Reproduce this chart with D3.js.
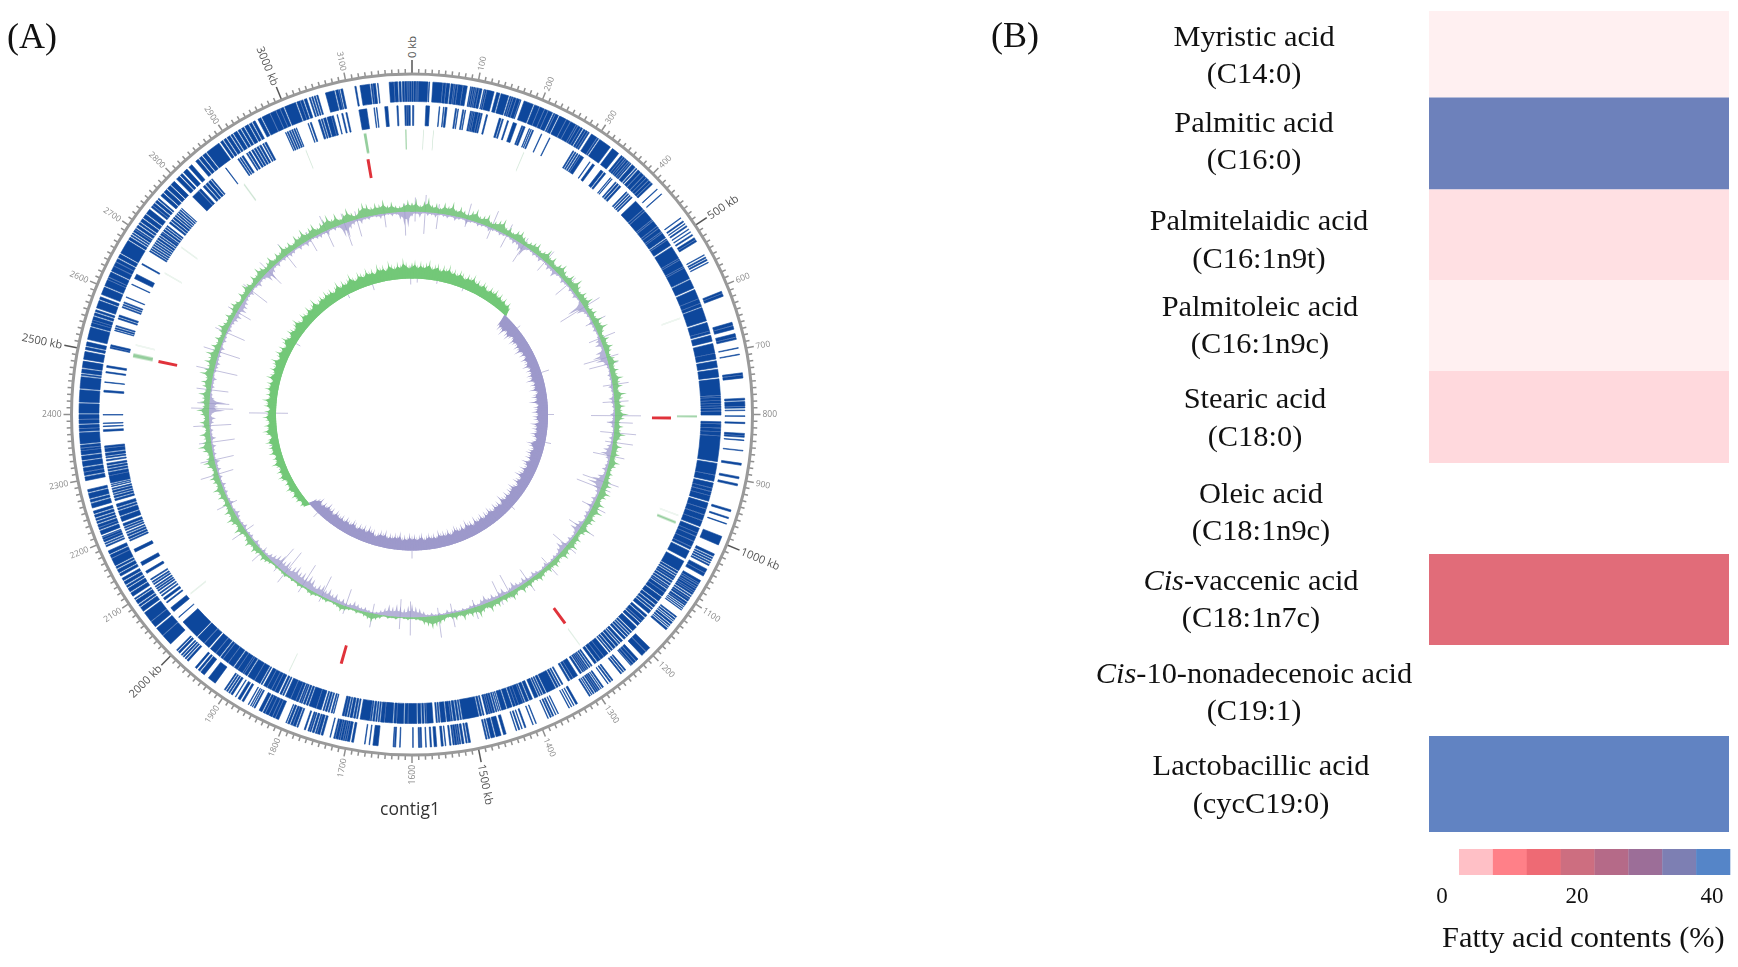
<!DOCTYPE html>
<html><head><meta charset="utf-8">
<script src="https://cdnjs.cloudflare.com/ajax/libs/d3/7.8.5/d3.min.js"></script>
<style>html,body{margin:0;padding:0;background:#fff;overflow:hidden}svg{display:block}</style>
</head><body><svg id="c" width="1738" height="967"></svg>
<script>
// ---------- Panel A data (kb) ----------
const genomeKb = 3200;
const majorTicks = [0,500,1000,1500,2000,2500,3000];
const minorTicks = [100,200,300,400,600,700,800,900,1100,1200,1300,1400,1600,1700,1800,1900,2100,2200,2300,2400,2600,2700,2800,2900,3100];

const genesOuter = [
[0,2],[3,6],[7,9],[10,24.5],[26,27],[32,47],[48,52],[53,58],[60,64],[65,66],[67,70],[71,78],[79,85],[90,91],[92,94],[95,97],[98,99],[100,103],[104,108],
[111,112],[113,115],[116,127],[131,136],[138,150],[152,154],[155,157],[158,162],[163,168],[169,170],[175,190],[192,200],[201,208],[209,214],[215,222],[224,226],[227,232],
[234,245],[246,252],[253,262],[263,265],[266,270],[271,274],[276,279],[280,283],[284,286],[290,300],[301,303],[305,325],[329,341],[346,349],[350,353],[354,356],[357,360],[361,363],[364,366],[368,374],[376,378],[380,385],[386,392],[393,397],[398,402],[403,407],[408,411],
[421,422],[431,432],[478,479],[484,486],[489,490],[493,495],[499,500],[504,505],[509,511],[515,518],[519,522],[545,546],[549,551],[553,555],[558,559],[607,610],[611,615],
[657,662],[663,668],[675,680],[681,684],[697,698],[707,708],[736,739],[740,744],[775,778],[780,787],[788,790],[793,794],[802,803],[812,814],[829,832],[833,835],[839,840],[855,856],[875,878],[896,899],[907,910],[948,951],[960,962],[970,971],[991,1005],
[1020,1024],[1026,1028],[1030,1032],[1034,1036],[1038,1040],[1046,1052],[1053,1058],[1066,1070],[1071,1073],[1074,1077],[1078,1080],[1081,1084],[1085,1087],[1088,1091],[1093,1095],[1097,1099],[1100,1103],[1105,1108],[1109,1111],[1113,1114],[1116,1117],[1119,1120],
[1132,1134],[1136,1138],[1140,1141],[1143,1146],[1148,1150],[1152,1153],[1155,1158],[1195,1203],[1204,1212],[1220,1224],[1225,1229],[1230,1233],[1234,1235],[1245,1247],[1249,1251],[1253,1255],[1270,1272],[1274,1276],[1279,1280],
[1288,1290],[1292,1293],[1295,1297],[1298,1300],[1301,1303],[1305,1307],[1309,1310],[1312,1314],[1335,1338],[1341,1342],[1345,1346],[1349,1350],[1368,1369],[1372,1373],[1376,1378],[1380,1382],[1385,1386],[1405,1406],[1410,1411],[1422,1424],[1428,1429],[1432,1434],[1437,1438],
[1454,1458],[1462,1470],[1472,1478],[1480,1482],[1484,1486],[1510,1513],[1515,1517],[1520,1523],[1525,1527],[1528,1530],[1531,1534],[1535,1537],[1540,1542],[1548,1549],[1552,1555],[1562,1566],[1570,1572],[1578,1579],
[1585,1587],[1588,1590],[1598,1599],[1618,1619],[1625,1627],[1628,1629],[1652,1660],[1665,1666],[1672,1673],[1690,1693],[1696,1700],[1701,1703],[1704,1706],[1707,1710],[1711,1713],[1714,1718],[1719,1721],[1726,1727],[1738,1741],[1743,1747],[1748,1750],[1752,1755],[1757,1759],[1760,1762],[1766,1768],
[1778,1780],[1782,1786],[1787,1790],[1792,1795],[1797,1798],[1810,1815],[1816,1820],[1821,1826],[1827,1832],[1833,1836],[1838,1843],[1850,1852],[1854,1855],[1857,1858],[1861,1862],[1870,1873],[1876,1880],[1884,1885],[1890,1893],[1895,1897],[1899,1901],[1903,1905],[1922,1935],[1943,1950],[1952,1955],[1958,1961],[1975,1978],[1980,1982],[1984,1986],[1988,1990],[1993,1996],[1998,2000],
[2013,2030],[2031,2045],[2048,2058],[2059,2075],[2078,2085],[2087,2090],[2092,2098],[2100,2102],[2106,2112],[2114,2120],[2122,2125],[2127,2132],[2134,2138],[2142,2146],[2148,2153],[2155,2158],[2160,2172],[2173,2178],[2180,2185],[2192,2194],[2196,2198],[2200,2203],[2204,2207],[2208,2209],[2212,2218],[2220,2223],[2224,2228],[2230,2233],[2235,2238],[2240,2244],[2246,2250],[2255,2262],[2264,2268],[2270,2278],[2280,2284],
[2298,2304],[2306,2311],[2312,2318],[2320,2328],[2330,2336],[2338,2344],[2345,2348],[2349,2353],[2355,2372],[2374,2378],[2379,2384],[2386,2392],[2393,2400],[2402,2417],[2419,2438],[2440,2458],[2460,2462],[2464,2470],[2472,2482],[2485,2497],[2500,2504],[2506,2512],[2516,2535],
[2537,2542],[2543,2546],[2547,2552],[2554,2558],[2560,2563],[2566,2578],[2580,2584],[2588,2600],[2602,2612],[2613,2616],[2617,2625],[2627,2635],[2636,2642],[2643,2648],[2650,2656],[2658,2680],[2682,2686],[2688,2690],[2692,2694],[2696,2699],[2700,2702],[2704,2708],[2710,2713],[2715,2720],[2722,2728],[2730,2738],[2742,2745],[2746,2750],[2752,2756],[2758,2760],[2765,2770],[2772,2778],[2780,2786],[2788,2795],[2800,2806],[2808,2812],[2815,2822],[2826,2832],
[2840,2845],[2847,2852],[2854,2860],[2862,2885],[2888,2892],[2894,2898],[2900,2905],[2907,2910],[2912,2918],[2920,2924],[2926,2930],[2932,2938],[2940,2944],[2946,2950],[2955,2960],[2962,2975],[2976,2985],[2986,2992],[2993,2998],[3000,3018],[3020,3025],[3026,3030],[3032,3036],[3040,3042],[3044,3046],[3048,3050],[3052,3054],[3066,3080],[3082,3086],[3087,3088],[3090,3093],[3112,3114],[3120,3135],[3137,3139],[3140,3144],[3147,3148],[3165,3172],[3173,3178],[3180,3183],[3185,3188],[3189,3192],[3193,3195],[3196,3199]
];

const genesInner = [
[1,3],[23,29],[45,46],[52,53],[55,58],[72,74],[76,77],[84,86],[88,89],[97,99],[100,101],[102,104],[105,110],[111,114],[115,117],[124,126],[146,149],[151,153],[160,162],[170,176],[185,187],[188,191],[198,199],[201,202],[204,206],[220,221],[235,236],
[279,281],[283,285],[287,289],[291,293],[294,300],[312,313],[318,322],[335,340],[342,345],[355,356],[358,359],[366,368],[370,373],[375,378],[390,392],[394,396],[398,400],[402,404],
[412,430],[431,434],[435,452],[453,455],[456,466],[467,470],[471,477],[478,480],[481,490],[492,494],[495,505],[508,530],[531,533],[534,545],[546,548],[549,568],[570,585],[588,604],[605,612],[613,618],[620,643],[646,660],[661,665],[668,678],[682,698],[699,708],[711,722],[725,738],[741,768],[769,771],[772,776],[777,781],[782,785],[786,789],[790,794],[795,801],[812,815],[816,822],[823,828],[829,835],[836,878],[881,900],[901,911],[914,922],[923,928],[929,935],[936,945],[948,958],[959,968],[969,978],[979,989],[992,1000],[1001,1006],[1007,1015],[1016,1025],[1026,1030],[1033,1047],
[1052,1070],[1072,1075],[1077,1079],[1081,1084],[1085,1088],[1090,1093],[1095,1098],[1100,1102],[1103,1105],[1107,1112],[1113,1120],[1122,1130],[1132,1137],[1139,1143],[1145,1148],[1150,1156],[1160,1164],[1166,1172],[1173,1176],[1178,1183],[1186,1195],[1197,1200],[1202,1204],[1206,1209],[1211,1215],[1218,1222],[1224,1226],[1228,1232],[1234,1238],[1240,1243],[1245,1247],[1250,1258],[1259,1265],[1266,1272],[1274,1278],
[1283,1285],[1287,1289],[1291,1293],[1294,1296],[1297,1299],[1300,1302],[1304,1307],[1312,1320],[1321,1325],[1327,1330],[1340,1342],[1345,1347],[1349,1352],[1354,1370],[1372,1376],[1378,1380],[1382,1384],[1386,1392],[1396,1401],[1403,1408],[1410,1412],[1413,1420],[1421,1425],[1426,1430],[1432,1440],[1442,1450],[1452,1453],[1455,1456],[1458,1460],[1462,1465],[1466,1469],[1470,1472],[1473,1476],[1480,1482],[1484,1487],[1489,1516],[1518,1520],[1522,1525],[1527,1531],[1533,1535],[1536,1542],[1544,1552],[1554,1556],[1558,1560],[1565,1575],[1576,1578],[1580,1583],[1585,1590],
[1592,1606],[1607,1612],[1614,1625],[1626,1630],[1632,1645],[1646,1652],[1654,1656],[1658,1660],[1662,1665],[1667,1669],[1670,1686],[1690,1692],[1694,1697],[1699,1703],[1705,1707],[1709,1712],[1713,1716],[1730,1731],[1733,1735],[1738,1740],[1742,1745],[1747,1749],[1752,1760],[1761,1773],[1775,1778],[1780,1783],[1785,1787],[1788,1790],[1792,1796],[1797,1805],[1806,1815],[1818,1820],[1822,1825],[1828,1834],[1835,1840],[1841,1848],[1849,1855],[1858,1860],[1862,1872],[1873,1885],[1887,1892],[1893,1895],[1896,1905],[1906,1912],[1914,1924],[1925,1935],[1936,1940],[1942,1950],[1951,1962],[1965,1975],[1976,1990],[1992,2025],
[2035,2036],[2048,2056],[2066,2068],[2072,2076],[2080,2082],[2085,2087],[2090,2092],[2094,2096],[2098,2100],[2103,2105],[2107,2109],[2112,2114],[2125,2129],[2140,2146],[2165,2170],[2185,2187],[2189,2192],[2194,2197],[2199,2201],[2204,2206],[2208,2210],[2212,2216],[2220,2228],[2230,2238],[2240,2243],[2245,2250],[2256,2259],[2261,2264],[2266,2268],[2270,2273],[2275,2277],[2280,2281],[2283,2284],[2286,2298],[2299,2304],[2306,2309],[2311,2314],[2316,2319],[2323,2325],[2328,2330],[2332,2336],[2338,2344],[2345,2348],[2372,2375],[2380,2381],[2385,2386],[2399,2400],[2437,2440],[2453,2454],[2469,2471],[2478,2481],[2510,2512],[2513,2516],[2540,2541],[2543,2545],[2547,2549],
[2560,2562],[2564,2567],[2580,2582],[2584,2586],[2588,2590],[2598,2599],[2621,2622],[2632,2640],[2658,2660],[2683,2685],[2687,2689],[2691,2693],[2695,2697],[2699,2701],[2703,2705],[2707,2710],[2712,2714],[2716,2719],[2720,2722],[2724,2727],[2729,2731],[2733,2735],[2740,2743],[2745,2748],[2750,2753],[2755,2757],[2759,2761],[2763,2765],[2767,2769],[2771,2772],[2798,2812],[2813,2817],[2822,2826],[2828,2832],[2834,2838],[2840,2842],[2870,2871],[2895,2897],[2899,2901],[2903,2906],[2912,2914],[2916,2919],[2922,2925],[2927,2930],[2932,2935],[2937,2940],[2943,2945],[2947,2950],
[2985,2986],[2988,2990],[2992,2994],[2996,2998],[3000,3002],[3004,3005],[3025,3026],[3029,3031],[3043,3046],[3048,3050],[3052,3056],[3058,3065],[3066,3069],[3075,3076],[3083,3085],[3090,3092],[3112,3125],[3137,3138],[3141,3142],[3155,3160],[3175,3177],[3188,3190],[3191,3193],[3194,3197]
];

const rnaGreen = [[3113,3118],[802,805],[996,1000],[2503,2510],[3188,3190]];
const rnaFaint = [[20,21],[38,39],[205,206],[624,625],[984,985],[1279,1280],[1827,1828],[2053,2054],[2525,2526],[2664,2665],[2719,2720],[2878,2880],[3005,3006]];
const rrnaRed = [[3110,3116],[2502,2508],[804,810],[1275,1281],[1738,1744]];

// one sample per 10 kb
const gcUp = [
9,13,7,11,15,8,10,6,12,9,14,7,11,8,6,10,13,7,9,12,6,8,11,14,7,9,6,10,12,8,5,7,
9,11,6,8,13,7,10,5,9,12,8,6,11,7,14,9,6,10,8,12,5,7,9,6,11,8,13,7,5,9,6,10,
7,5,8,11,6,9,7,12,8,10,6,13,9,7,11,8,14,10,6,9,7,12,8,5,10,7,9,6,11,8,5,7,
6,8,10,7,12,9,6,11,8,13,7,10,9,6,12,8,5,9,7,11,6,8,10,5,7,9,6,8,5,7,9,6,
5,8,6,9,4,7,10,6,8,5,9,7,11,6,8,12,7,9,6,10,5,8,6,4,7,9,11,13,10,8,4,3,
2,3,2,1,3,2,3,1,4,6,9,7,5,3,4,2,3,5,7,4,3,2,4,3,2,3,5,4,2,3,4,2,
3,2,4,3,2,3,2,4,6,8,5,7,9,6,10,7,5,8,11,6,9,12,7,10,6,8,5,9,7,11,6,8,
10,7,5,9,12,8,6,10,14,9,7,11,5,8,10,6,9,13,7,10,8,12,6,9,11,7,14,10,8,12,9,13,
7,10,6,9,5,8,11,7,6,9,5,8,10,7,4,9,6,11,8,5,10,7,12,9,6,8,11,5,9,7,13,8,
10,6,12,9,14,8,11,13,7,10,12,15,9,13,6,10,14,8,5,11,15,13,9,12,10,14,8,11,7,6,9,12
];
const gcDown = [
5,3,6,2,4,3,5,2,3,4,2,5,3,2,6,3,2,4,3,2,5,3,2,4,3,2,3,5,4,9,12,3,
2,4,3,5,2,3,6,4,8,3,2,5,3,2,4,3,5,2,3,18,10,4,3,2,5,3,4,2,3,6,8,3,
10,14,12,5,3,2,4,3,2,5,3,2,6,4,3,2,5,3,7,4,2,3,5,3,6,9,11,5,3,4,6,3,
8,13,16,9,5,3,6,4,7,3,5,4,2,6,8,10,4,3,5,3,8,10,6,3,4,3,2,5,3,2,4,6,
3,5,7,4,6,9,5,3,8,6,4,7,5,9,6,3,5,4,2,3,2,4,3,5,2,3,2,4,3,6,9,11,
14,12,9,11,13,10,12,8,5,3,2,3,5,4,6,8,5,4,7,5,9,7,11,8,12,10,7,12,14,10,13,11,
15,12,9,13,10,14,11,8,6,3,4,2,3,5,2,4,3,2,5,3,2,4,6,3,2,5,3,2,4,3,5,2,
4,2,5,3,6,2,4,3,5,2,6,3,4,2,5,7,3,16,9,17,5,3,2,4,3,5,2,3,4,5,3,4,
3,5,2,4,3,2,5,3,4,6,8,5,9,8,6,4,3,5,2,3,6,3,4,10,12,6,3,5,2,4,3,5,
4,2,5,3,6,3,2,4,5,3,6,2,4,3,14,16,8,5,3,6,3,4,2,3,5,3,2,4,3,8,14,16
];
const gcSkew = [
16,19,14,18,15,17,20,14,16,18,13,17,15,19,14,16,13,17,15,12,16,14,18,13,15,12,16,14,11,15,13,16,
12,15,11,14,10,13,9,-14,-17,-15,-19,-13,-16,-18,-14,-12,-17,-15,-13,-16,-14,-18,-12,-15,-11,-16,-13,-14,-17,-12,-15,-13,
-16,-14,-18,-12,-15,-13,-17,-11,-14,-16,-13,-19,-12,-15,-14,-17,-13,-16,-15,-12,-18,-14,-16,-13,-17,-15,-12,-14,-19,-16,-13,-15,
-17,-14,-16,-12,-18,-15,-13,-17,-14,-16,-19,-13,-15,-17,-12,-14,-18,-15,-16,-13,-17,-14,-15,-19,-12,-16,-14,-17,-13,-15,-18,-14,
-16,-13,-17,-15,-14,-18,-12,-16,-15,-19,-13,-17,-14,-16,-18,-15,-13,-17,-14,-16,-15,-18,-13,-16,-14,-17,-15,-13,-18,-16,-14,-17,
-15,-18,-14,-16,-13,-19,-15,-17,-14,-16,-13,-18,-15,-17,-14,-12,-16,-15,-18,-13,-17,-14,-16,-12,-15,-17,-13,-14,-16,-12,-15,-13,
-14,-16,-11,-15,-13,-17,-12,-14,-10,-15,-12,-9,7,9,6,10,8,11,7,9,12,8,10,7,11,13,9,12,8,10,14,9,
11,8,13,10,12,9,14,11,8,12,15,10,13,9,11,14,10,12,8,13,11,15,9,12,10,14,11,13,9,15,12,10,
14,11,13,16,10,12,15,11,14,9,13,16,12,10,15,13,11,14,17,12,10,15,13,11,16,12,14,18,11,13,15,12,
16,13,15,11,14,18,12,16,13,15,19,14,12,17,15,13,18,14,16,12,19,15,17,13,20,16,14,18,15,21,17,14
];
// thin, faint spikes: [kb, outward, inward]
const gcSpikes = [[8,14,10],[33,17,22],[66,9,16],[140,16,8],[205,18,12],[248,12,14],[297,8,20],[365,13,12],[446,10,16],[516,18,28],[560,14,8],[604,16,12],[655,12,24],[672,10,20],[725,16,10],[768,14,12],[803,26,24],[820,18,8],[846,22,14],[870,20,8],[905,14,18],[972,16,22],[990,10,26],[1040,14,12],[1100,16,14],[1158,12,18],[1225,14,10],[1290,12,14],[1345,6,20],[1372,8,18],[1440,12,8],[1498,14,10],[1533,22,8],[1604,18,16],[1630,12,18],[1700,14,10],[1770,8,18],[1835,6,22],[1890,8,24],[1944,12,26],[1968,6,24],[2022,14,6],[2090,16,10],[2168,14,8],[2248,18,16],[2285,14,20],[2330,12,24],[2372,16,22],[2415,18,24],[2428,12,20],[2462,14,18],[2512,18,24],[2560,16,22],[2612,12,20],[2670,10,16],[2735,10,20],[2800,12,18],[2860,14,16],[2932,8,14],[2978,16,18],[3027,10,24],[3060,8,18],[3130,6,14],[3182,8,24]];
const skewSpikes = [[20,8,4],[95,6,3],[196,7,3],[2405,27,12],[2680,10,5],[2950,9,4],[3050,6,6],[3195,12,6],[450,4,0],[640,8,0],[800,6,0],[905,6,0],[1180,4,0],[1600,8,0],[1990,6,6],[2200,8,0],[2290,10,0],[2540,8,0]];

// ---------- Panel B data ----------
const fattyNames = ["Myristic acid","Palmitic acid","Palmitelaidic acid","Palmitoleic acid","Stearic acid","Oleic acid","-vaccenic acid","-10-nonadecenoic acid","Lactobacillic acid"];
const fattyPrefix = ["","","","","","","Cis","Cis",""];
const fattyFormulas = ["(C14:0)","(C16:0)","(C16:1n9t)","(C16:1n9c)","(C18:0)","(C18:1n9c)","(C18:1n7c)","(C19:1)","(cycC19:0)"];
const fattyValues = [1.2,37,2.5,1.2,3,0,17,0,38.5];
const colorStops = [0,5,10,15,20,25,30,35,40];
const colorRange = ["#ffffff","#ffc0c6","#ff8088","#ee6a74","#cd6e80","#b56a88","#9c6e98","#7d7fb3","#5585c8"];
const legendTicks = [0,20,40];

// ---------- Layout ----------
const svg = d3.select("#c");
const cx = 412, cy = 414.5, R = 340.5;
const sans = "'Open Sans',sans-serif", serif = "'Liberation Serif','Times New Roman',serif";
const defs = svg.append("defs");
defs.append("filter").attr("id","soft2").append("feGaussianBlur").attr("stdDeviation",0.35);

const angle = d3.scaleLinear().domain([0,genomeKb]).range([0,2*Math.PI]);
const deg = k => angle(k)*180/Math.PI;
const A = svg.append("g").attr("transform",`translate(${cx},${cy})`);

function ring(list, r0, r1, fill, op, grow){
  const arc = d3.arc().innerRadius(r0).outerRadius(r1);
  A.append("g").attr("filter","url(#soft2)").selectAll("path").data(list).join("path")
   .attr("d",d=>arc({startAngle:angle(d[0]),endAngle:angle(d[1])}))
   .attr("fill",fill).attr("opacity",op).attr("stroke",fill).attr("stroke-width",grow);
}
ring(genesOuter,313,333,"#0b479c",1,0.6);
ring(genesInner,289,309,"#0b479c",1,0.6);
ring(rnaFaint,265,285,"#8fc29c",0.55,0);
ring(rnaGreen,265,285,"#72bd7c",0.75,0);
ring(rrnaRed,240,259,"#e0333a",1,0);

// GC rings: a low body plus one thin spike per sample
const spikeScale = d3.scaleLinear().domain([0,20]).range([0,20]);
const radial = d3.lineRadial().angle(d=>angle(d[0])).radius(d=>d[1]).curve(d3.curveLinearClosed);
function bars(values, base, sign, fill, op, widthPx, bodyFrac, keep){
  const kbPerPx = genomeKb/(2*Math.PI*base);
  const w = widthPx*kbPerPx;
  const pts = values.map((v,i)=>({k:i*10,v:keep(v)?Math.abs(v):0}));
  pts.push({k:genomeKb,v:pts[0].v});
  const g = A.append("g").attr("filter","url(#soft2)").attr("fill",fill).attr("opacity",op);
  const body = d3.areaRadial().angle(d=>angle(d.k)).innerRadius(base).outerRadius(d=>base+sign*bodyFrac*spikeScale(d.v));
  g.append("path").attr("d",body(pts));
  g.selectAll("path.s").data(pts.filter(p=>p.v>0)).join("path").attr("class","s")
   .attr("d",p=>radial([[p.k-w,base],[p.k,base+sign*spikeScale(p.v)],[p.k+w,base]]));
}
function spikeLines(list, base, col, op, sw){
  const g = A.append("g").attr("stroke",col).attr("stroke-width",sw).attr("opacity",op).attr("filter","url(#soft2)");
  g.selectAll("line").data(list).join("line")
   .attr("x1",d=>Math.sin(angle(d[0]))*(base-spikeScale(d[2]))).attr("y1",d=>-Math.cos(angle(d[0]))*(base-spikeScale(d[2])))
   .attr("x2",d=>Math.sin(angle(d[0]))*(base+spikeScale(d[1]))).attr("y2",d=>-Math.cos(angle(d[0]))*(base+spikeScale(d[1])));
}
const always = v=>v>0;
spikeLines(gcSpikes,203,"#a9a6cf",0.7,1);
bars(gcDown,203,-1,"#9d99cb",0.75,2,0.5,always);
bars(gcUp,203,1,"#74c57a",0.9,2,0.6,always);
spikeLines(skewSpikes,136,"#a9a6cf",0.7,1);
bars(gcSkew,136,1,"#73c878",1,1.6,0.72,v=>v>0);
bars(gcSkew,136,-1,"#9d99cb",1,1.6,0.72,v=>v<0);

// scale ring and ticks
const tickG = A.append("g");
A.append("circle").attr("r",R).attr("fill","none").attr("stroke","#999").attr("stroke-width",3);
const tickLen = k => majorTicks.includes(k)?14:(minorTicks.includes(k)?8:5);
tickG.selectAll("line").data(d3.range(0,genomeKb,10)).join("line")
  .attr("x1",k=>Math.sin(angle(k))*R).attr("y1",k=>-Math.cos(angle(k))*R)
  .attr("x2",k=>Math.sin(angle(k))*(R+tickLen(k))).attr("y2",k=>-Math.cos(angle(k))*(R+tickLen(k)))
  .attr("stroke-width",1.5)
  .attr("stroke",k=>majorTicks.includes(k)?"#555":"#8f8f8f");
function tickLabels(list, r, size, col, fmt){
  A.append("g").selectAll("text").data(list).join("text")
   .attr("transform",k=>{const d=deg(k); return d<180?`rotate(${d-90}) translate(${r},0)`:`rotate(${d-90}) translate(${r},0) rotate(180)`;})
   .attr("text-anchor",k=>deg(k)<180?"start":"end").attr("dy","0.35em")
   .attr("font-family",sans).attr("font-size",size).attr("fill",col).text(fmt);
}
tickLabels(majorTicks,R+16,11.2,"#555",k=>k+" kb");
tickLabels(minorTicks,R+10,8.5,"#8a8a8a",k=>k);
svg.append("text").attr("x",410).attr("y",815).attr("text-anchor","middle").attr("font-family",sans).attr("font-size",17.5).attr("fill","#333").text("contig1");

svg.append("text").attr("x",7).attr("y",48).attr("font-family",serif).attr("font-size",36).attr("fill","#111").text("(A)");
svg.append("text").attr("x",991).attr("y",47).attr("font-family",serif).attr("font-size",36).attr("fill","#111").text("(B)");

// ---------- Panel B ----------
const color = d3.scaleLinear().domain(colorStops).range(colorRange);
const rowEdges = [11,97.5,189.5,280,371,463,554,645,736,832];
const heatX = 1429, heatW = 300;
const rowCenter = [1254,1254,1259,1260,1255,1261,1251,1254,1261];
const rowBase1 = [46,132,230,316,408,503,590,683,775];
const rowBase2 = [83,169,268,353,446,540,627,720,813];
svg.append("g").selectAll("rect").data(fattyValues).join("rect")
  .attr("x",heatX).attr("width",heatW).attr("y",(d,i)=>rowEdges[i]).attr("height",(d,i)=>rowEdges[i+1]-rowEdges[i])
  .attr("fill",d=>color(d));
const lab = svg.append("g").attr("font-family",serif).attr("font-size",30.4).attr("fill","#111").attr("text-anchor","middle");
fattyNames.forEach((n,i)=>{
  const t = lab.append("text").attr("x",rowCenter[i]).attr("y",rowBase1[i]);
  if(fattyPrefix[i]) t.append("tspan").attr("font-style","italic").text(fattyPrefix[i]);
  t.append("tspan").text(n);
  lab.append("text").attr("x",rowCenter[i]).attr("y",rowBase2[i]).text(fattyFormulas[i]);
});
// legend
const cellVals = colorStops.slice(1);
const legendBand = d3.scaleBand().domain(cellVals).range([1459,1730]);
svg.append("g").selectAll("rect").data(cellVals).join("rect")
  .attr("x",d=>legendBand(d)).attr("width",legendBand.bandwidth()+0.3).attr("y",849).attr("height",26).attr("fill",d=>color(d));
const legendAxis = d3.scaleLinear().domain([0,40]).range([1442,1712]);
svg.append("g").selectAll("text").data(legendTicks).join("text")
  .attr("x",d=>legendAxis(d)).attr("y",903).attr("text-anchor","middle").attr("font-family",serif).attr("font-size",23).attr("fill","#111").text(d=>d);
svg.append("text").attr("x",1442).attr("y",947).attr("font-family",serif).attr("font-size",30.4).attr("fill","#111").text("Fatty acid contents (%)");
</script></body></html>
